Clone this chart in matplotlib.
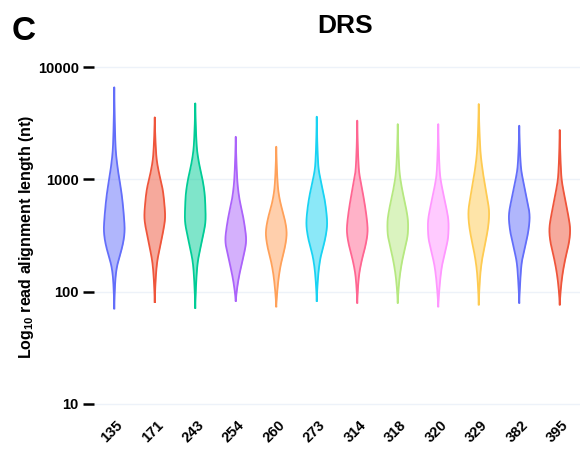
import numpy as np
import matplotlib
matplotlib.use("Agg")
import matplotlib.pyplot as plt
from matplotlib.transforms import ScaledTranslation

plt.rcParams['font.family'] = ['Liberation Sans', 'DejaVu Sans']
plt.rcParams['mathtext.fontset'] = 'custom'
plt.rcParams['mathtext.rm'] = 'Liberation Sans'
plt.rcParams['mathtext.bf'] = 'Liberation Sans:bold'

# ---- data: categories and violin profiles (read length in nt, relative density) ----
categories = ["135", "171", "243", "254", "260", "273", "314", "318", "320", "329", "382", "395"]
colors = ["#636EFA", "#EF553B", "#00CC96", "#AB63FA", "#FFA15A", "#19D3F3",
          "#FF6692", "#B6E880", "#FF97FF", "#FECB52", "#636EFA", "#EF553B"]

len_135 = [71, 127, 167, 219, 288, 353, 498, 750, 986, 1210, 1950, 6590]
den_135 = [0.0, 0.10, 0.25, 0.60, 0.90, 1.00, 0.90, 0.70, 0.50, 0.35, 0.12, 0.0]

len_171 = [81, 145, 191, 251, 353, 465, 571, 803, 1130, 1590, 3560]
den_171 = [0.0, 0.12, 0.25, 0.50, 0.82, 1.00, 0.94, 0.77, 0.41, 0.15, 0.0]

len_243 = [72, 127, 179, 251, 330, 434, 700, 986, 1390, 1950, 4740]
den_243 = [0.0, 0.10, 0.22, 0.52, 0.79, 1.00, 0.93, 0.71, 0.36, 0.14, 0.0]

len_254 = [83, 118, 156, 219, 288, 353, 498, 654, 986, 2390]
den_254 = [0.0, 0.19, 0.43, 0.79, 1.00, 0.90, 0.64, 0.36, 0.14, 0.0]

len_260 = [74, 127, 179, 251, 330, 465, 611, 859, 1950]
den_260 = [0.0, 0.20, 0.45, 0.83, 1.00, 0.75, 0.40, 0.15, 0.0]

len_273 = [83, 145, 205, 288, 405, 498, 700, 986, 1290, 3610]
den_273 = [0.0, 0.15, 0.37, 0.78, 1.00, 0.93, 0.71, 0.37, 0.15, 0.0]

len_314 = [80, 136, 191, 269, 353, 434, 611, 859, 1210, 3330]
den_314 = [0.0, 0.15, 0.43, 0.83, 1.00, 0.92, 0.70, 0.42, 0.15, 0.0]

len_318 = [80, 127, 179, 251, 330, 405, 571, 803, 1210, 3100]
den_318 = [0.0, 0.15, 0.38, 0.72, 0.98, 1.00, 0.77, 0.43, 0.15, 0.0]

len_320 = [74, 118, 167, 234, 308, 405, 571, 803, 1130, 3100]
den_320 = [0.0, 0.15, 0.34, 0.69, 0.96, 1.00, 0.75, 0.41, 0.15, 0.0]

len_329 = [77, 145, 205, 288, 405, 498, 750, 1130, 1820, 4680]
den_329 = [0.0, 0.15, 0.36, 0.68, 0.94, 1.00, 0.73, 0.41, 0.15, 0.0]

len_382 = [80, 127, 179, 251, 353, 465, 654, 920, 1290, 3000]
den_382 = [0.0, 0.10, 0.22, 0.55, 0.88, 1.00, 0.75, 0.42, 0.15, 0.0]

len_395 = [77, 111, 145, 205, 288, 353, 498, 750, 1050, 2750]
den_395 = [0.0, 0.12, 0.27, 0.57, 0.92, 1.00, 0.77, 0.40, 0.15, 0.0]

lengths = [len_135, len_171, len_243, len_254, len_260, len_273,
           len_314, len_318, len_320, len_329, len_382, len_395]
densities = [den_135, den_171, den_243, den_254, den_260, den_273,
             den_314, den_318, den_320, den_329, den_382, den_395]

y_ticks = [10, 100, 1000, 10000]
y_ticklabels = ["10", "100", "1000", "10000"]


def pchip(x, y, xs):
    x = np.asarray(x, float)
    y = np.asarray(y, float)
    h = np.diff(x)
    d = np.diff(y) / h
    m = np.zeros_like(y)
    for k in range(1, len(y) - 1):
        if d[k - 1] * d[k] > 0:
            w1 = 2 * h[k] + h[k - 1]
            w2 = h[k] + 2 * h[k - 1]
            m[k] = (w1 + w2) / (w1 / d[k - 1] + w2 / d[k])
    m[0] = d[0] * 0.5
    m[-1] = d[-1] * 0.5
    idx = np.clip(np.searchsorted(x, xs) - 1, 0, len(x) - 2)
    t = (xs - x[idx]) / h[idx]
    h00 = 2 * t**3 - 3 * t**2 + 1
    h10 = t**3 - 2 * t**2 + t
    h01 = -2 * t**3 + 3 * t**2
    h11 = t**3 - t**2
    return h00 * y[idx] + h10 * h[idx] * m[idx] + h01 * y[idx + 1] + h11 * h[idx] * m[idx + 1]


def smooth(v, xs, sigma):
    step = xs[1] - xs[0]
    n = int(3 * sigma / step)
    k = np.exp(-0.5 * (np.arange(-n, n + 1) * step / sigma) ** 2)
    k /= k.sum()
    padded = np.concatenate([np.full(n, v[0]), v, np.full(n, v[-1])])
    return np.convolve(padded, k, mode='valid')


fig = plt.figure(figsize=(5.87, 4.49), dpi=100)
ax = fig.add_axes([94 / 587, 1 - 407 / 449, (580 - 94) / 587, (407 - 64) / 449])

half_width = 0.255
for i, (lv, dv, col) in enumerate(zip(lengths, densities, colors)):
    loglv = np.log10(lv)
    ys_log = np.linspace(loglv[0], loglv[-1], 500)
    w = np.clip(pchip(loglv, dv, ys_log), 0, None)
    w = smooth(w, ys_log, 0.035)
    w = w / w.max() * half_width
    w[0] = 0.0
    w[-1] = 0.0
    ys = 10 ** ys_log
    ax.fill_betweenx(ys, i - w, i + w, color=col, alpha=0.5, linewidth=0, zorder=2)
    xs_outline = np.concatenate([i - w, (i + w)[::-1], [i - w[0]]])
    ys_outline = np.concatenate([ys, ys[::-1], [ys[0]]])
    ax.plot(xs_outline, ys_outline, color=col, linewidth=1.3, zorder=3,
            solid_joinstyle='round')

ax.set_yscale('log')
ax.set_ylim(10 ** (1 - 3 / 112.3), 10 ** (4 + 3 / 112.3))
ax.set_xlim(-0.5, len(categories) - 0.5)
ax.set_yticks(y_ticks)
ax.set_yticklabels(y_ticklabels, fontsize=10.5, fontweight='bold')
ax.yaxis.set_minor_locator(matplotlib.ticker.NullLocator())
ax.tick_params(axis='y', length=8, width=1.8, pad=3, color='black')
ax.grid(axis='y', color='#edf2f9', linewidth=1.0, zorder=0)
ax.set_axisbelow(True)

ax.set_xticks(range(len(categories)))
ax.set_xticklabels(categories, rotation=45, fontsize=10.5, fontweight='bold',
                   ha='center', va='top')
ax.tick_params(axis='x', length=0, pad=8)
for lab in ax.get_xticklabels():
    lab.set_transform(lab.get_transform() + ScaledTranslation(-2 / 100, 0, fig.dpi_scale_trans))

for sp in ax.spines.values():
    sp.set_visible(False)

fig.text(27 / 587, 1 - 237 / 449, r"Log$_{\mathbf{10}}$ read alignment length (nt)",
         rotation=90, ha='center', va='center', fontsize=11.5, fontweight='bold')
fig.text(345 / 587, 1 - 33 / 449, "DRS", ha='center', va='baseline',
         fontsize=19, fontweight='bold')
fig.text(12 / 587, 1 - 40 / 449, "C", ha='left', va='baseline',
         fontsize=24, fontweight='bold')

fig.savefig("out.png", dpi=100)
